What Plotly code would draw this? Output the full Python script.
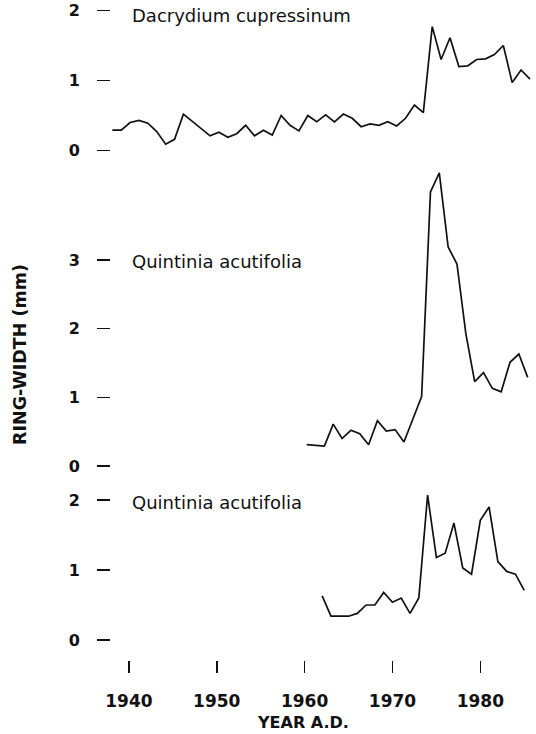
import plotly.graph_objects as go

# ---------------- data ----------------
years_dacrydium = list(range(1938, 1986))
width_dacrydium = [0.29, 0.29, 0.40, 0.43, 0.39, 0.27, 0.09, 0.16, 0.52, 0.42,
                   0.31, 0.21, 0.26, 0.19, 0.24, 0.36, 0.21, 0.29, 0.22, 0.50,
                   0.36, 0.28, 0.50, 0.41, 0.51, 0.41, 0.52, 0.46, 0.34, 0.38,
                   0.36, 0.41, 0.35, 0.46, 0.65, 0.54, 1.77, 1.30, 1.61, 1.20,
                   1.21, 1.30, 1.31, 1.37, 1.50, 0.97, 1.15, 1.02]

years_quintinia_a = list(range(1960, 1986))
width_quintinia_a = [0.31, 0.30, 0.29, 0.61, 0.40, 0.52, 0.47, 0.31, 0.66, 0.51,
                     0.53, 0.35, 0.68, 1.01, 3.99, 4.27, 3.19, 2.94, 1.93, 1.23,
                     1.36, 1.13, 1.08, 1.51, 1.63, 1.29]

years_quintinia_b = list(range(1962, 1986))
width_quintinia_b = [0.63, 0.34, 0.34, 0.34, 0.38, 0.50, 0.50, 0.68, 0.54, 0.60,
                     0.38, 0.60, 2.07, 1.18, 1.24, 1.67, 1.03, 0.94, 1.71, 1.90,
                     1.12, 0.98, 0.94, 0.71]

panel_labels = ["Dacrydium cupressinum", "Quintinia acutifolia", "Quintinia acutifolia"]
x_tick_years = [1940, 1950, 1960, 1970, 1980]
y_ticks_top = [0, 1, 2]
y_ticks_mid = [0, 1, 2, 3]
y_ticks_bot = [0, 1, 2]

# ---------------- figure ----------------
W, H = 536, 734
INK = "#111111"

def fy(px):
    return 1 - px / H

fig = go.Figure()
line = dict(color=INK, width=1.7)
fig.add_trace(go.Scatter(x=years_dacrydium, y=width_dacrydium, mode="lines",
                         line=line, xaxis="x", yaxis="y", showlegend=False))
fig.add_trace(go.Scatter(x=years_quintinia_a, y=width_quintinia_a, mode="lines",
                         line=line, xaxis="x2", yaxis="y2", showlegend=False))
fig.add_trace(go.Scatter(x=years_quintinia_b, y=width_quintinia_b, mode="lines",
                         line=line, xaxis="x3", yaxis="y3", showlegend=False))

xdom = [111 / W, 1]
tickfont = dict(family="DejaVu Sans", size=16, color=INK, weight="bold")

def yax(dom, rng, vals):
    return dict(domain=dom, range=rng, tickmode="array", tickvals=vals,
                ticks="outside", ticklen=13, tickwidth=1.6, tickcolor=INK,
                showline=False, showgrid=False, zeroline=False, automargin=False,
                tickfont=tickfont, ticklabelstandoff=14, fixedrange=True)

def xhidden(rng, anchor):
    return dict(domain=xdom, range=rng, visible=False, anchor=anchor, automargin=False)

fig.update_layout(
    template="none",
    width=W, height=H,
    margin=dict(l=0, r=0, t=0, b=0, autoexpand=False),
    paper_bgcolor="white", plot_bgcolor="white",
    xaxis=xhidden([1937.85, 1985.68], "y"),
    xaxis2=xhidden([1937.86, 1985.94], "y2"),
    xaxis3=dict(domain=xdom, range=[1937.96, 1986.34], anchor="y3",
                tickmode="array", tickvals=x_tick_years,
                ticks="outside", ticklen=12, tickwidth=1.6, tickcolor=INK,
                showline=False, showgrid=False, zeroline=False, automargin=False,
                tickfont=dict(family="DejaVu Sans", size=17, color=INK, weight="bold"),
                ticklabelstandoff=14),
    yaxis=yax([fy(161), fy(0)], [-0.15, 2.15], y_ticks_top),
    yaxis2=yax([fy(473), fy(162)], [-0.102, 4.427], y_ticks_mid),
    yaxis3=yax([fy(660), fy(486)], [-0.2857, 2.2], y_ticks_bot),
)

labfont = dict(family="DejaVu Sans", size=18, color=INK)
for txt, ypx in zip(panel_labels, [15, 261, 503]):
    fig.add_annotation(text=txt, xref="paper", yref="paper", x=130 / W, y=fy(ypx),
                       xanchor="left", yanchor="middle", showarrow=False, font=labfont)

fig.add_annotation(text="YEAR A.D.", xref="paper", yref="paper", x=303 / W, y=fy(722),
                   xanchor="center", yanchor="middle", showarrow=False,
                   font=dict(family="DejaVu Sans", size=16, color=INK, weight="bold"))
fig.add_annotation(text="RING-WIDTH (mm)", xref="paper", yref="paper", x=20 / W, y=fy(355),
                   xanchor="center", yanchor="middle", textangle=-90, showarrow=False,
                   font=dict(family="DejaVu Sans", size=17.5, color=INK, weight="bold"))

fig.write_html("out.html",
               config={"displayModeBar": False, "staticPlot": True},
               post_script="document.body.style.margin='0';document.body.style.overflow='hidden';")
